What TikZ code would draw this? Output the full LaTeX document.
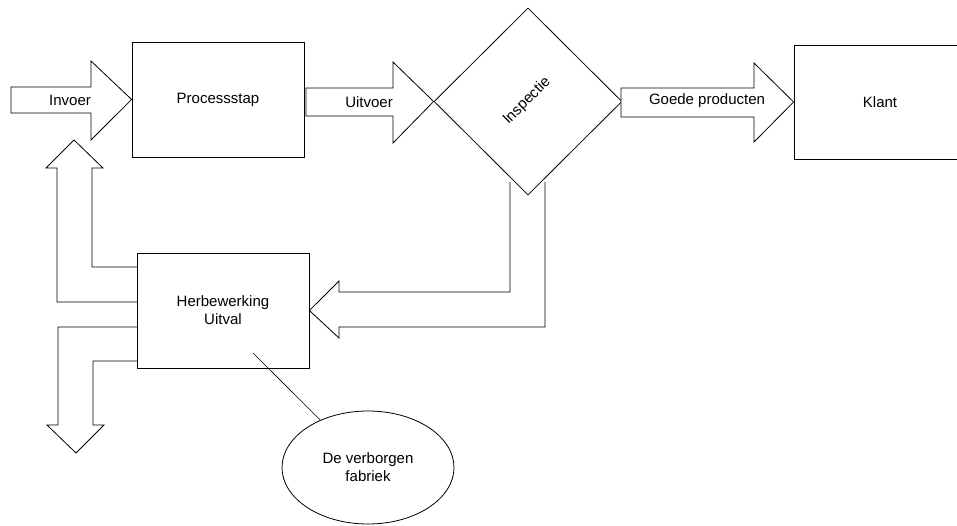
\documentclass[tikz,border=0pt]{standalone}
\usepackage{fontspec}
\setmainfont{Liberation Sans}
\usetikzlibrary{shapes.geometric}
\begin{document}
\begin{tikzpicture}[x=1pt,y=-1pt,
  line width=0.8pt,
  every node/.style={font=\fontsize{15}{18}\selectfont},
  boxnode/.style={draw,rectangle,minimum width=172pt,minimum height=#1,inner sep=0pt,align=center},
  blockarrow/.style={draw,fill=white,line join=miter},
  lbl/.style={inner sep=0pt}]
\useasboundingbox (0,0) rectangle (957,525);
% boxes
\node[boxnode=115pt] (proc) at (218,99.5) {Processstap};
\node[boxnode=114pt] (klant) at (880,102) {Klant};
\node[boxnode=115pt] (herb) at (223,310.5) {Herbewerking\\Uitval};
\node[draw,diamond,minimum width=188pt,minimum height=187pt,inner sep=0pt] (insp) at (528,101.5) {};
\node[lbl,rotate=45] (insptxt) at (527,101) {Inspectie};
\node[draw,ellipse,minimum width=172pt,minimum height=113pt,inner sep=0pt,align=center] (ell) at (368,467.5) {De verborgen\\fabriek};
% block arrows
\draw[blockarrow] (11,87) -- (91,87) -- (91,61) -- (proc.west) -- (91,140) -- (91,113) -- (11,113) -- cycle;
\node[lbl] (invoer) at (70,100) {Invoer};
\draw[blockarrow] (306,88) -- (393,88) -- (393,62) -- (insp.west) -- (393,143) -- (393,116) -- (306,116) -- cycle;
\node[lbl] (uitvoer) at (369,102) {Uitvoer};
\draw[blockarrow] (621,88) -- (754,88) -- (754,63) -- (klant.west) -- (754,142) -- (754,117) -- (621,117) -- cycle;
\node[lbl] (goede) at (707,101) {Goede producten};
% feedback arrows
\draw[line join=miter] (137,267) -- (92,267) -- (92,168) -- (103,168) -- (74,140) -- (46,168) -- (57,168) -- (57,302) -- (137,302);
\draw[line join=miter] (137,327) -- (58,327) -- (58,425) -- (47,425) -- (76,453) -- (104,425) -- (93,425) -- (93,361) -- (137,361);
\draw[line join=miter] (510,182) -- (510,292) -- (339,292) -- (339,281) -- (herb.east) -- (339,338) -- (339,327) -- (545,327) -- (545,182);
% callout line
\coordinate (cstart) at (253,353);
\draw[line width=0.6pt] (cstart) -- (ell);
\end{tikzpicture}
\end{document}
